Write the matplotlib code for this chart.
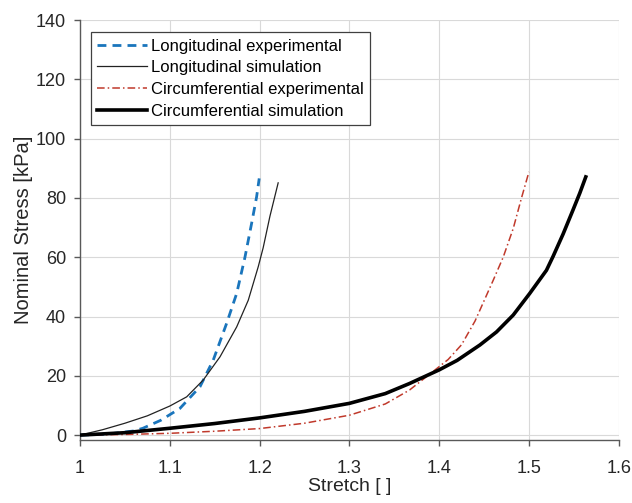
import matplotlib
matplotlib.use("Agg")
import matplotlib.pyplot as plt

plt.rcParams['font.family'] = ['Liberation Sans', 'DejaVu Sans']

# Longitudinal experimental
long_exp_x = [1.0, 1.03, 1.06, 1.07, 1.09, 1.1113, 1.1336, 1.1484, 1.1633, 1.1745, 1.1837, 1.1911, 1.1967, 1.1996]
long_exp_y = [0, 0.3, 1.4, 2.3, 5.0, 9.0, 16.3, 25.3, 37.7, 47.8, 60, 71.4, 80.4, 86.6]

# Longitudinal simulation
long_sim_x = [1.0, 1.025, 1.05, 1.075, 1.1, 1.1188, 1.1373, 1.1559, 1.1745, 1.1874, 1.1985, 1.204, 1.2115, 1.2207]
long_sim_y = [0, 1.8, 4.0, 6.5, 9.8, 12.9, 18.6, 26.4, 36.5, 45.5, 56.8, 63.2, 73.8, 85.1]

# Circumferential experimental
circ_exp_x = [1.0, 1.05, 1.1, 1.15, 1.2, 1.25, 1.3, 1.34, 1.367, 1.393, 1.41, 1.425, 1.44, 1.4603, 1.4713, 1.4825, 1.4917, 1.5]
circ_exp_y = [0, 0.2, 0.6, 1.3, 2.2, 4.0, 6.7, 10.5, 15.2, 21.4, 25.5, 30.5, 38.5, 52.3, 60, 69.7, 80, 88.8]

# Circumferential simulation
circ_sim_x = [1.0, 1.05, 1.1, 1.15, 1.2, 1.25, 1.3, 1.34, 1.367, 1.4, 1.42, 1.4454, 1.4639, 1.4825, 1.5009, 1.5195, 1.5269, 1.538, 1.549, 1.5566, 1.5633]
circ_sim_y = [0, 0.8, 2.3, 3.9, 5.8, 8.0, 10.7, 14.0, 17.4, 22.0, 25.2, 30.4, 34.8, 40.5, 47.8, 55.6, 60.3, 67.8, 75.9, 81.6, 87.1]

x_ticks = [1, 1.1, 1.2, 1.3, 1.4, 1.5, 1.6]
x_tick_labels = ['1', '1.1', '1.2', '1.3', '1.4', '1.5', '1.6']
y_ticks = [0, 20, 40, 60, 80, 100, 120, 140]

fig = plt.figure(figsize=(6.32, 5.03), dpi=100)
ax = fig.add_axes([0.1266, 0.125, 0.979 - 0.1266, 0.960 - 0.125])

ax.plot(long_exp_x, long_exp_y, color='#1a75bc', lw=2.0, ls=(0, (3.2, 2.2)),
        label='Longitudinal experimental', zorder=3)
ax.plot(long_sim_x, long_sim_y, color='#222222', lw=0.9,
        label='Longitudinal simulation', zorder=3)
ax.plot(circ_exp_x, circ_exp_y, color='#c0392b', lw=1.1, ls=(0, (5, 2, 1, 2)),
        label='Circumferential experimental', zorder=3)
ax.plot(circ_sim_x, circ_sim_y, color='#000000', lw=2.6,
        label='Circumferential simulation', zorder=3)

ax.set_xlim(1.0, 1.6)
ax.set_ylim(-1.7, 140)
ax.set_xticks(x_ticks)
ax.set_xticklabels(x_tick_labels)
ax.set_yticks(y_ticks)

ax.grid(True, color='#d9d9d9', lw=0.8)
ax.set_axisbelow(True)
for s in ['top', 'right']:
    ax.spines[s].set_visible(False)
for s in ['left', 'bottom']:
    ax.spines[s].set_color('#595959')
    ax.spines[s].set_linewidth(1.0)
ax.tick_params(axis='both', colors='#595959', labelcolor='#262626', labelsize=13,
               length=4, width=1.0, direction='out', pad=6)
ax.tick_params(axis='x', pad=10)

ax.set_xlabel('Stretch [ ]', fontsize=14, color='#262626', labelpad=1)
ax.set_ylabel('Nominal Stress [kPa]', fontsize=14.5, color='#262626', labelpad=2)

leg = ax.legend(loc='upper left', bbox_to_anchor=(0.02, 0.972), fontsize=12,
                frameon=True, fancybox=False, handlelength=3.0, handletextpad=0.2,
                borderpad=0.4, labelspacing=0.4, borderaxespad=0.0)
leg.get_frame().set_edgecolor('#404040')
leg.get_frame().set_linewidth(0.9)
leg.get_frame().set_alpha(1.0)

fig.savefig('out.png', dpi=100)
